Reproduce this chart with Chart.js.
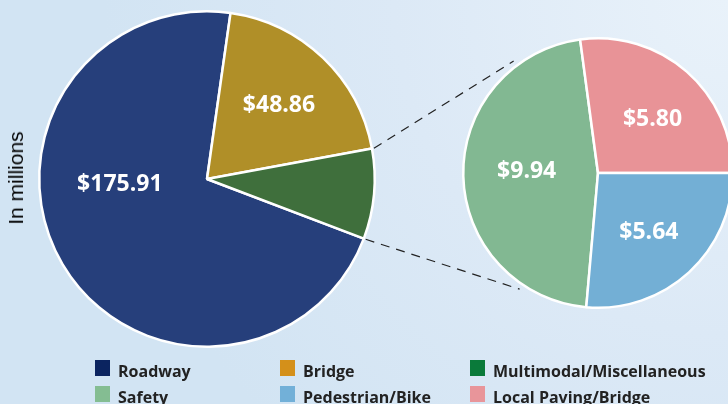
<!DOCTYPE html>
<html>
<head>
<meta charset="utf-8">
<script src="https://cdn.jsdelivr.net/npm/chart.js@4"></script>
<style>
  html, body { margin: 0; padding: 0; }
  body {
    width: 728px; height: 404px; overflow: hidden; position: relative;
    background: radial-gradient(circle at 100% 0%, #e9f2fa 0%, #dce9f6 40%, #d2e4f3 75%);
    font-family: "Open Sans", sans-serif;
  }
  canvas { position: absolute; left: 0; top: 0; }
  #yTitle {
    position: absolute; left: 16px; top: 178px;
    transform: translate(-50%, -50%) rotate(-90deg);
    font-family: "Liberation Sans", Arial, sans-serif; font-size: 21px; color: #000;
    white-space: nowrap;
  }
  .leg { position: absolute; display: flex; align-items: center; height: 16px;
    font-weight: bold; font-size: 16px; color: #222; white-space: nowrap; }
  .leg span.box { width: 15px; height: 16px; margin-right: 8px; flex: none; }
  .leg span.txt { position: relative; top: 3px; }
</style>
</head>
<body>
<canvas id="leftPie" width="728" height="404"></canvas>
<canvas id="rightPie" width="760" height="404"></canvas>
<div id="yTitle">In millions</div>
<div id="legend"></div>
<script>
// values in millions of dollars
const leftLabels = ['Roadway', 'Bridge', 'Multimodal/Miscellaneous'];
const leftValues = [175.91, 48.86, 21.38];
const rightLabels = ['Safety', 'Local Paving/Bridge', 'Pedestrian/Bike'];
const rightValues = [9.94, 5.80, 5.64];

const leftColors = ['#263f7b', '#b08f28', '#3f6f3c'];
const rightColors = ['#82b892', '#e89397', '#73afd5'];

// legend (same order as the original)
const legendNames = ['Roadway', 'Bridge', 'Multimodal/Miscellaneous', 'Safety', 'Pedestrian/Bike', 'Local Paving/Bridge'];
const legendColors = ['#0b2460', '#d4901a', '#0a7a3a', '#84bd92', '#72b0d8', '#e8959a'];

// draws "$xx.xx" inside slices; radius = fraction of outer radius, shift = degrees from mid angle
function sliceLabels(radius, shift) {
  return {
    id: 'sliceLabels',
    afterDatasetsDraw(chart) {
      const ctx = chart.ctx;
      const vals = chart.data.datasets[0].data;
      ctx.save();
      ctx.font = 'bold 23px "Open Sans"';
      ctx.fillStyle = '#fff';
      ctx.textAlign = 'center';
      ctx.textBaseline = 'middle';
      chart.getDatasetMeta(0).data.forEach((arc, i) => {
        if (radius[i] == null) return;
        const p = arc.getProps(['x', 'y', 'startAngle', 'endAngle', 'outerRadius'], true);
        const a = (p.startAngle + p.endAngle) / 2 + shift[i] * Math.PI / 180;
        const r = p.outerRadius * radius[i];
        ctx.fillText('$' + vals[i].toFixed(2), p.x + r * Math.cos(a), p.y + r * Math.sin(a) + 2);
      });
      ctx.restore();
    }
  };
}

function pieConfig(labels, values, colors, rotation, padding, plugins) {
  return {
    type: 'pie',
    data: {
      labels: labels,
      datasets: [{
        data: values,
        backgroundColor: colors,
        borderColor: '#ffffff',
        borderWidth: 2.5
      }]
    },
    options: {
      responsive: false,
      animation: false,
      devicePixelRatio: 1,
      rotation: rotation,
      layout: { padding: padding },
      events: [],
      plugins: { legend: { display: false }, tooltip: { enabled: false } }
    },
    plugins: plugins
  };
}

const leftChart = new Chart(document.getElementById('leftPie'),
  pieConfig(leftLabels, leftValues, leftColors, 110.8,
    { left: 38, right: 352, top: 10, bottom: 56 },
    [sliceLabels([0.52, 0.62, null], [28.5, 0, 0])]));

// dashed lines joining the small slice to the second pie
const connectors = {
  id: 'connectors',
  beforeDatasetsDraw(chart) {
    const src = leftChart.getDatasetMeta(0).data[2].getProps(['x', 'y', 'startAngle', 'endAngle', 'outerRadius'], true);
    const dst = chart.getDatasetMeta(0).data[0].getProps(['x', 'y', 'outerRadius'], true);
    const ctx = chart.ctx;
    const pt = (o, r, a) => [o.x + r * Math.cos(a), o.y + r * Math.sin(a)];
    const pairs = [
      [pt(src, src.outerRadius + 2, src.startAngle), pt(dst, dst.outerRadius * 1.04, -127 * Math.PI / 180)],
      [pt(src, src.outerRadius + 2, src.endAngle), pt(dst, dst.outerRadius * 1.04, 124 * Math.PI / 180)]
    ];
    ctx.save();
    ctx.strokeStyle = '#222';
    ctx.lineWidth = 1.2;
    ctx.setLineDash([9, 7]);
    pairs.forEach(([a, b]) => {
      ctx.beginPath();
      ctx.moveTo(a[0], a[1]);
      ctx.lineTo(b[0], b[1]);
      ctx.stroke();
    });
    ctx.restore();
  }
};

const rightChart = new Chart(document.getElementById('rightPie'),
  pieConfig(rightLabels, rightValues, rightColors, 185,
    { left: 462, right: 26, top: 37, bottom: 95 },
    [connectors, sliceLabels([0.53, 0.58, 0.57], [4, 3, 1])]));

// legend
const legendX = [95, 280, 470];
const legendY = [360, 386];
const legendDiv = document.getElementById('legend');
legendNames.forEach((name, i) => {
  const d = document.createElement('div');
  d.className = 'leg';
  d.style.left = legendX[i % 3] + 'px';
  d.style.top = legendY[Math.floor(i / 3)] + 'px';
  d.innerHTML = '<span class="box" style="background:' + legendColors[i] + '"></span><span class="txt"></span>';
  d.querySelector('.txt').textContent = name;
  legendDiv.appendChild(d);
});
</script>
</body>
</html>
